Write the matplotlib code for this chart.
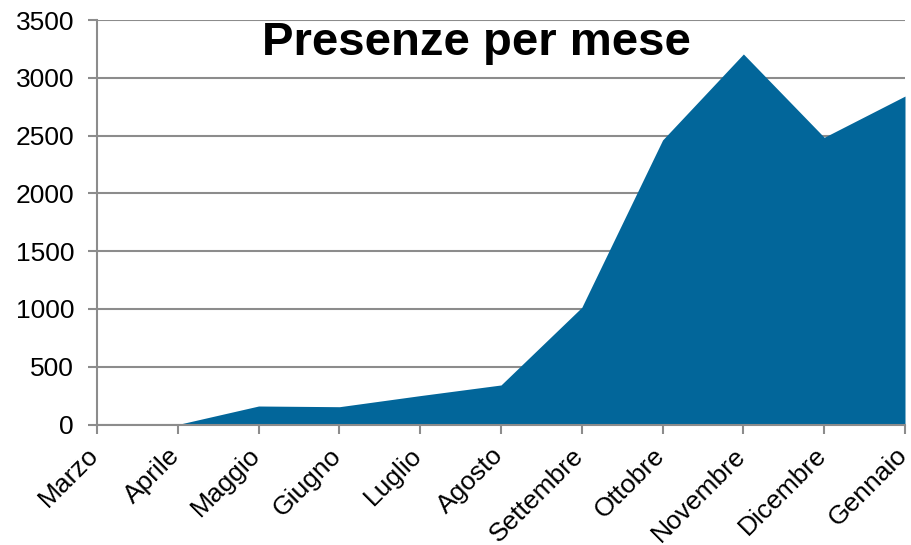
import numpy as np
import matplotlib.pyplot as plt
import matplotlib.transforms as mtransforms

mesi = ["Marzo", "Aprile", "Maggio", "Giugno", "Luglio", "Agosto",
        "Settembre", "Ottobre", "Novembre", "Dicembre", "Gennaio"]
presenze = [np.nan, 0, 160, 154, 250, 342, 1014, 2462, 3206, 2485, 2842]
y_ticks = [0, 500, 1000, 1500, 2000, 2500, 3000, 3500]

plt.rcParams['font.family'] = ['Liberation Sans', 'DejaVu Sans']
grey = '#8c8c8c'

fig = plt.figure(figsize=(9.12, 5.45), dpi=100)
ax = fig.add_axes([97 / 912, 1 - 424.5 / 545, (905 - 97) / 912, (424.5 - 20) / 545])

x = np.arange(len(mesi))
y = np.array(presenze, dtype=float)
ax.fill_between(x, 0, y, where=~np.isnan(y), color='#02669A', linewidth=0, zorder=2)

ax.set_xlim(0, len(mesi) - 1)
ax.set_ylim(0, 3500)
ax.set_yticks(y_ticks)
ax.set_xticks(x)
ax.set_xticklabels(mesi, rotation=45, ha='right', va='top', rotation_mode='anchor')

ax.grid(axis='y', color=grey, linewidth=1.5, zorder=1)
for s in ['top', 'right']:
    ax.spines[s].set_visible(False)
for s in ['left', 'bottom']:
    ax.spines[s].set_color(grey)
    ax.spines[s].set_linewidth(1.5)
ax.tick_params(axis='both', colors=grey, labelcolor='black', labelsize=19,
               length=6.5, width=1.5)
ax.tick_params(axis='y', pad=10)
ax.tick_params(axis='x', pad=7)

# nudge x labels a bit left so the last one stays inside
off = mtransforms.ScaledTranslation(-7.5 / 72, 0, fig.dpi_scale_trans)
for lab in ax.get_xticklabels():
    lab.set_transform(lab.get_transform() + off)

fig.text(0.522, 1 - 55 / 545, "Presenze per mese", fontsize=34, fontweight='bold',
         ha='center', va='baseline')

fig.savefig("out.png", dpi=100)
